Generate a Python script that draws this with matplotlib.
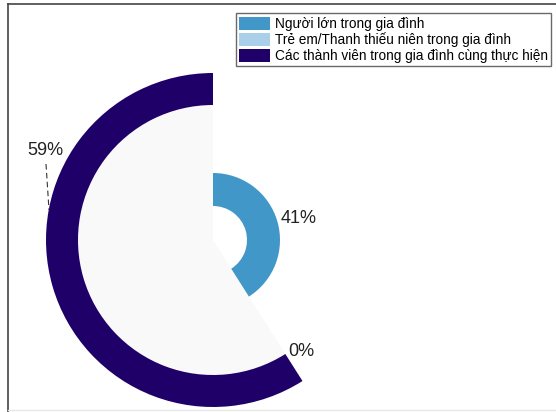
import matplotlib
matplotlib.use("Agg")
import matplotlib.pyplot as plt
from matplotlib.patches import Patch
from matplotlib.lines import Line2D

plt.rcParams['font.family'] = ['Liberation Sans', 'DejaVu Sans']

categories = ['Người lớn trong gia đình',
              'Trẻ em/Thanh thiếu niên trong gia đình',
              'Các thành viên trong gia đình cùng thực hiện']
values = [41, 0, 59]
colors = ['#4197c8', '#a9d0e8', '#1f0068']
labels = ['41%', '0%', '59%']

fig = plt.figure(figsize=(5.56, 4.12), dpi=100)
ax = fig.add_axes([0, 0, 1, 1])
ax.set_xlim(0, 556)
ax.set_ylim(0, 412)
ax.set_aspect('equal')
ax.axis('off')

cx, cy = 213, 172

# light grey sector behind the outer ring
ax.pie([values[2], 100 - values[2]], colors=['#f9f9f9', 'none'], radius=135,
       center=(cx, cy), startangle=90, counterclock=True, frame=True)

# inner ring: adults (clockwise)
ax.pie([values[0], 100 - values[0]], colors=[colors[0], 'none'], radius=67,
       center=(cx, cy), startangle=90, counterclock=False, frame=True,
       wedgeprops=dict(width=33, linewidth=0))

# middle ring: children (0%)
ax.pie([values[1] + 1e-9, 100], colors=[colors[1], 'none'], radius=100,
       center=(cx, cy), startangle=90, counterclock=False, frame=True,
       wedgeprops=dict(width=33, linewidth=0))

# outer ring: whole family (counterclockwise)
ax.pie([values[2], 100 - values[2]], colors=[colors[2], 'none'], radius=167,
       center=(cx, cy), startangle=90, counterclock=True, frame=True,
       wedgeprops=dict(width=32, linewidth=0))

ax.set_xlim(0, 556)
ax.set_ylim(0, 412)
ax.axis('off')

ax.text(299, 194, labels[0], fontsize=13, ha='center', va='center', color='#222222')
ax.text(301, 60, labels[1], fontsize=13, ha='center', va='center', color='#222222')
ax.text(45, 262, labels[2], fontsize=13, ha='center', va='center', color='#222222')
ax.plot([46, 49], [248, 202], color='#333333', lw=0.8, ls=(0, (5, 3)))

handles = [Patch(facecolor=c, edgecolor='none') for c in colors]
leg = fig.legend(handles, categories, loc='upper left', bbox_to_anchor=(0.424, 0.968),
                 borderaxespad=0, fontsize=9.8, frameon=True, fancybox=False,
                 handlelength=2.3, handleheight=1.1, handletextpad=0.3,
                 labelspacing=0.12, borderpad=0.25)
leg.get_frame().set_edgecolor('#444444')
leg.get_frame().set_linewidth(1.0)

# frame lines at top and left
fig.add_artist(Line2D([8 / 556, 1], [1 - 4 / 412, 1 - 4 / 412], color='#444444', lw=1.2))
fig.add_artist(Line2D([8 / 556, 8 / 556], [0, 1 - 4 / 412], color='#444444', lw=1.2))
fig.add_artist(Line2D([8 / 556, 1], [2 / 412, 2 / 412], color='#e6e6e6', lw=1.0))

fig.savefig('out.png', dpi=100)
